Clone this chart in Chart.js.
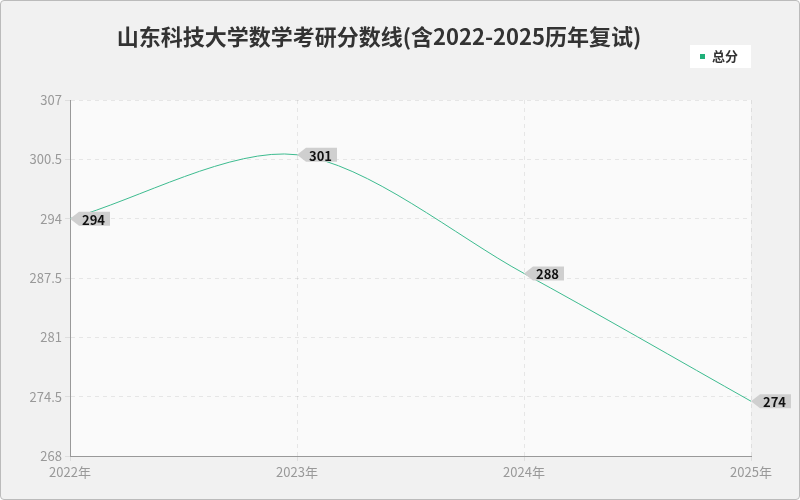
<!DOCTYPE html>
<html><head><meta charset="utf-8">
<script src="https://cdn.jsdelivr.net/npm/chart.js@4"></script>
<style>
html,body{margin:0;padding:0;background:#fff}
#wrap{width:798px;height:498px;border:1px solid #bbb;background:#f1f1f1;border-radius:4px}
</style></head>
<body><div id="wrap"><canvas id="c" width="798" height="498"></canvas></div>
<script>
const years = ["2022年", "2023年", "2024年", "2025年"];
const scores = [294, 301, 288, 274];
const yTicks = [268, 274.5, 281, 287.5, 294, 300.5, 307];
const FONT = '"Noto Sans CJK SC", "Noto Sans", sans-serif';

/** ---------------- title, legend, value tags ---------------- **/
const decor = {
  id: 'decor',
  beforeDraw(chart) {
    const { ctx, chartArea: a } = chart;
    ctx.save();
    ctx.fillStyle = '#fafafa';
    ctx.fillRect(a.left, a.top, a.right - a.left, a.bottom - a.top);
    ctx.restore();
  },
  afterDraw(chart) {
    const ctx = chart.ctx;
    ctx.save();
    ctx.font = 'bold 22px ' + FONT;
    ctx.fillStyle = '#333';
    ctx.textAlign = 'center';
    ctx.textBaseline = 'middle';
    ctx.fillText('山东科技大学数学考研分数线(含2022-2025历年复试)', 378, 36);
    // legend
    ctx.fillStyle = '#fff';
    ctx.fillRect(689, 44, 61, 23);
    ctx.fillStyle = '#20b07a';
    ctx.fillRect(699, 53, 5, 5);
    ctx.fillStyle = '#333';
    ctx.font = 'bold 13px ' + FONT;
    ctx.textAlign = 'left';
    ctx.fillText('总分', 711, 55);
    // tags
    const meta = chart.getDatasetMeta(0);
    ctx.font = 'bold 13px ' + FONT;
    meta.data.forEach((p, i) => {
      const x = p.x, y = p.y;
      ctx.fillStyle = '#cfcfcf';
      ctx.beginPath();
      ctx.moveTo(x, y);
      ctx.lineTo(x + 9, y - 7);
      ctx.lineTo(x + 40, y - 7);
      ctx.lineTo(x + 40, y + 7);
      ctx.lineTo(x + 9, y + 7);
      ctx.closePath();
      ctx.fill();
      ctx.fillStyle = '#111';
      ctx.fillText(String(scores[i]), x + 12, y + 1);
    });
    ctx.restore();
  }
};

new Chart(document.getElementById('c'), {
  type: 'line',
  data: {
    labels: years,
    datasets: [{
      data: scores,
      borderColor: '#3dbb8f',
      borderWidth: 1,
      pointRadius: 0,
      tension: 0.3,
      fill: false
    }]
  },
  options: {
    responsive: false,
    animation: false,
    layout: { padding: { top: 99, right: 48, left: 0, bottom: 0 } },
    plugins: { legend: { display: false }, tooltip: { enabled: false } },
    scales: {
      x: {
        offset: false,
        grid: { color: 'rgba(0,0,0,0.08)', tickLength: 5 },
        border: { color: '#999', dash: [4, 4] },
        ticks: { color: '#999', font: { family: FONT, size: 13 }, maxRotation: 0 },
        afterFit(s) { s.height = 43; }
      },
      y: {
        min: 268, max: 307,
        afterBuildTicks(s) { s.ticks = yTicks.map(v => ({ value: v })); },
        grid: { color: 'rgba(0,0,0,0.08)', tickLength: 5 },
        border: { color: '#999', dash: [4, 4] },
        ticks: { color: '#999', font: { family: FONT, size: 13 } },
        afterFit(s) { s.width = 69; }
      }
    }
  },
  plugins: [decor]
});
</script>
</body></html>
